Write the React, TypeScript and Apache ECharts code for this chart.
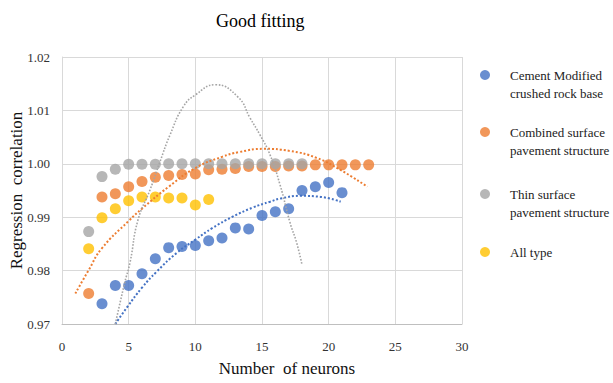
import React, { useEffect, useRef } from "react";
import * as echarts from "echarts";

// ---------- data ----------
const cementX = [3, 4, 5, 6, 7, 8, 9, 10, 11, 12, 13, 14, 15, 16, 17, 18, 19, 20, 21];
const cementY = [0.9738, 0.9772, 0.9772, 0.9794, 0.9822, 0.9843, 0.9845, 0.9847, 0.9856, 0.9861, 0.988, 0.9878, 0.9903, 0.991, 0.9916, 0.995, 0.9957, 0.9965, 0.9946];

const combinedX = [2, 3, 4, 5, 6, 7, 8, 9, 10, 11, 12, 13, 14, 15, 16, 17, 18, 19, 20, 21, 22, 23];
const combinedY = [0.9757, 0.9938, 0.9944, 0.9957, 0.9967, 0.9975, 0.9978, 0.998, 0.9981, 0.9989, 0.999, 0.9991, 0.9995, 0.9995, 0.9995, 0.9996, 0.9996, 0.9998, 0.9998, 0.9998, 0.9998, 0.9998];

const thinX = [2, 3, 4, 5, 6, 7, 8, 9, 10, 11, 12, 13, 14, 15, 16, 17, 18];
const thinY = [0.9873, 0.9976, 0.999, 0.9999, 0.9999, 0.9999, 1.0, 1.0, 1.0, 1.0, 1.0, 1.0, 1.0, 1.0, 1.0, 1.0, 1.0];

const allX = [2, 3, 4, 5, 6, 7, 8, 9, 10, 11];
const allY = [0.9841, 0.9899, 0.9916, 0.9931, 0.9938, 0.9938, 0.9936, 0.9936, 0.9923, 0.9933];

// dotted trend lines
const cementTrendX = [4.0, 4.9, 6.0, 7.1, 8.6, 10.0, 11.3, 12.8, 14.3, 15.6, 16.4, 17.9, 19.4, 20.9];
const cementTrendY = [0.97, 0.9732, 0.9768, 0.9798, 0.9833, 0.9858, 0.988, 0.9901, 0.9918, 0.9929, 0.9935, 0.994, 0.9938, 0.9929];

const combinedTrendX = [1.0, 2.0, 3.0, 5.0, 6.0, 8.0, 10.0, 12.0, 13.3, 15.1, 17.1, 19.1, 20.85, 22.9];
const combinedTrendY = [0.9757, 0.9801, 0.9842, 0.9893, 0.9916, 0.9957, 0.9992, 1.0013, 1.0022, 1.0028, 1.0024, 1.0011, 0.9989, 0.9957];

const thinTrendX = [4.0, 4.7, 5.1, 5.7, 6.6, 7.35, 8.1, 9.1, 10.0, 11.5, 13.2, 14.1, 14.85, 15.6, 16.35, 17.1, 17.6, 18.0];
const thinTrendY = [0.97, 0.9777, 0.9815, 0.9895, 0.9951, 1.0004, 1.0054, 1.0107, 1.0129, 1.0148, 1.0125, 1.0086, 1.0054, 1.0017, 0.9961, 0.989, 0.9852, 0.9811];

const seriesNames = [
  "Cement Modified crushed rock base",
  "Combined surface pavement structure",
  "Thin surface pavement structure",
  "All type",
];
const legendLines: string[][] = [
  ["Cement Modified", "crushed rock base"],
  ["Combined surface", "pavement structure"],
  ["Thin surface", "pavement structure"],
  ["All type"],
];
const colors = ["#4472C4", "#ED7D31", "#A5A5A5", "#FFC000"];

const FONT = "'Liberation Serif', 'Times New Roman', serif";

const pairs = (xs: number[], ys: number[]) => xs.map((x, i) => [x, ys[i]]);

export default function App() {
  const ref = useRef<HTMLDivElement>(null);

  useEffect(() => {
    if (!ref.current) return;
    const chart = echarts.init(ref.current, null, { renderer: "svg" });

    const scatterData = [
      pairs(cementX, cementY),
      pairs(combinedX, combinedY),
      pairs(thinX, thinY),
      pairs(allX, allY),
    ];

    const trends = [
      { name: "cement trend", data: pairs(cementTrendX, cementTrendY), color: colors[0], width: 2 },
      { name: "combined trend", data: pairs(combinedTrendX, combinedTrendY), color: colors[1], width: 2 },
      { name: "thin trend", data: pairs(thinTrendX, thinTrendY), color: colors[2], width: 1.6 },
    ];

    const iconY = [75, 132, 194, 252];
    const lineH = 18;

    const legends = seriesNames.map((n, i) => {
      const lines = legendLines[i];
      const text = lines.length > 1 ? "\n" + lines.join("\n") : lines[0];
      const h = lines.length > 1 ? lineH * 3 : lineH;
      return {
        data: [n],
        left: 480,
        top: iconY[i] - h / 2,
        padding: 0,
        itemWidth: 40,
        itemHeight: 10,
        icon: "circle",
        selectedMode: false,
        formatter: () => text,
        textStyle: { fontFamily: FONT, fontSize: 13, color: "#222", lineHeight: lineH },
      };
    });

    const option: any = {
      animation: false,
      textStyle: { fontFamily: FONT },
      title: {
        text: "Good fitting",
        left: 211,
        top: 7,
        textStyle: { fontFamily: FONT, fontSize: 18, fontWeight: "normal", color: "#000" },
      },
      legend: legends,
      grid: { left: 62, right: 151, top: 57, bottom: 59, containLabel: false, outerBoundsMode: "none" },
      xAxis: {
        type: "value",
        min: 0,
        max: 30,
        interval: 5,
        axisLine: { show: true, lineStyle: { color: "#BFBFBF", width: 1 } },
        axisTick: { show: false },
        splitLine: { show: true, lineStyle: { color: "#D9D9D9", width: 1 } },
        axisLabel: { margin: 16, fontFamily: FONT, fontSize: 13, color: "#333" },
        name: "Number  of neurons",
        nameLocation: "middle",
        nameGap: 36,
        nameTextStyle: { fontFamily: FONT, fontSize: 17, color: "#111", padding: [0, 0, 0, 50] },
      },
      yAxis: {
        type: "value",
        min: 0.97,
        max: 1.02,
        interval: 0.01,
        axisLine: { show: true, lineStyle: { color: "#D9D9D9", width: 1 } },
        axisTick: { show: false },
        splitLine: { show: true, lineStyle: { color: "#D9D9D9", width: 1 } },
        axisLabel: {
          margin: 12,
          fontFamily: FONT,
          fontSize: 13,
          color: "#333",
          formatter: (v: number) => v.toFixed(2),
        },
        name: "Regression  correlation",
        nameLocation: "middle",
        nameGap: 37,
        nameMoveOverlap: false,
        nameTextStyle: { fontFamily: FONT, fontSize: 17, color: "#111" },
      },
      series: [
        ...seriesNames.map((n, i) => ({
          name: n,
          type: "scatter",
          data: scatterData[i],
          symbol: "circle",
          symbolSize: 11,
          itemStyle: { color: colors[i] },
          z: 2,
        })),
        ...trends.map((t) => ({
          name: t.name,
          type: "line",
          data: t.data,
          smooth: true,
          showSymbol: false,
          silent: true,
          clip: true,
          z: 3,
          itemStyle: { color: t.color },
          lineStyle: { color: t.color, width: t.width, type: [t.width, t.width] },
        })),
      ],
    };

    chart.setOption(option);
    return () => chart.dispose();
  }, []);

  return (
    <div
      ref={ref}
      style={{ position: "fixed", left: 0, top: 0, width: 613, height: 383, background: "#fff" }}
    />
  );
}
